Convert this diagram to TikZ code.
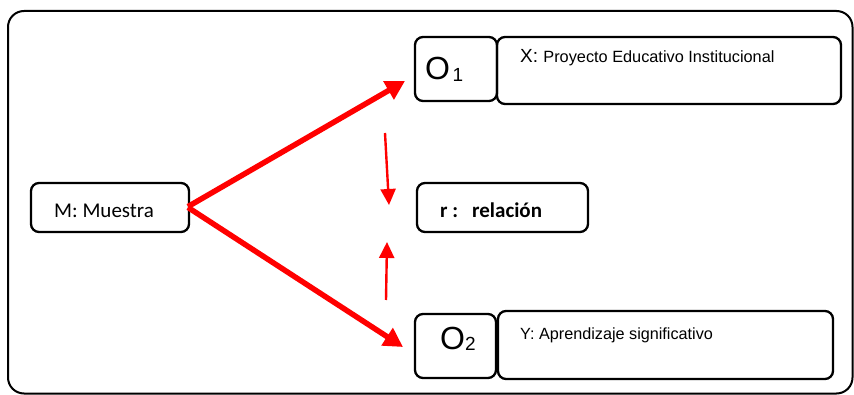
\documentclass[tikz,border=0pt]{standalone}
\usepackage{fontspec}
\setmainfont{Liberation Sans}
\newfontfamily\arialf{Liberation Sans}
\newfontfamily\calibrif{Carlito}
\usetikzlibrary{arrows.meta}
\begin{document}
\begin{tikzpicture}[x=1pt,y=-1pt,
  box/.style={draw=black,line width=2.3pt,rounded corners=8pt},
  bigarrow/.style={draw=red,line width=5.5pt,-{Triangle[length=19pt,width=20pt]}},
  smallarrow/.style={draw=red,line width=2.4pt,-{Triangle[length=16pt,width=15pt]}}]
\useasboundingbox (0,0) rectangle (854,395);
\draw[line width=2pt,rounded corners=16pt] (8,11) rectangle (852.5,393.5);
% boxes
\draw[box] (31,183) rectangle (189,232);
\node[inner sep=0,anchor=east] (M) at (188,207) {};
\draw[box] (415,37) rectangle (497,101);
\draw[box] (497,37) rectangle (841,104);
\draw[box] (417,183) rectangle (588,232);
\draw[box] (415,314) rectangle (496,378);
\draw[box] (498,311) rectangle (833,379);
% texts
\node[anchor=base west,inner sep=0,font=\calibrif\fontsize{21}{24}\selectfont] (mt) at (54,218) {M: Muestra};
\node[anchor=base west,inner sep=0,font=\arialf\fontsize{32}{35}\selectfont] (o1) at (425,80) {O\hspace{2.5pt}\fontsize{19}{22}\selectfont\raisebox{-2pt}{1}};
\node[anchor=base west,inner sep=0,font=\arialf\fontsize{32}{35}\selectfont] (o2) at (440,349) {O\fontsize{19}{22}\selectfont\raisebox{-1pt}{2}};
\node[anchor=base west,inner sep=0,font=\arialf] (xt) at (520,63) {\fontsize{19}{22}\selectfont X: \fontsize{16.3}{19}\selectfont Proyecto Educativo Institucional};
\node[anchor=base west,inner sep=0,font=\arialf\fontsize{16.2}{19}\selectfont] (yt) at (520,339) {Y: Aprendizaje significativo};
\node[anchor=base west,inner sep=0,font=\calibrif\bfseries\fontsize{21}{24}\selectfont] (rt) at (440,218) {r :\hspace{14pt}relación};
% connectors
\coordinate (t1) at (405,81);
\coordinate (t2) at (403,347);
\coordinate (d1) at (385,133);
\coordinate (d2) at (389,205);
\coordinate (u1) at (386,300);
\coordinate (u2) at (387,242);
\draw[bigarrow] (M) -- (t1);
\draw[bigarrow] (M) -- (t2);
\draw[smallarrow] (d1) -- (d2);
\draw[smallarrow] (u1) -- (u2);
\end{tikzpicture}
\end{document}
